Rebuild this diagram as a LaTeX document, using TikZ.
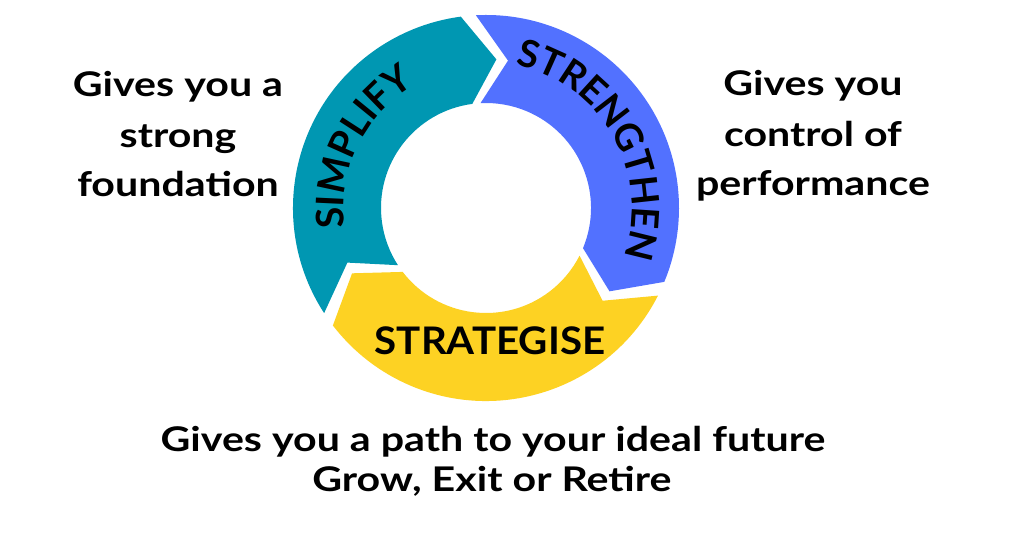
\documentclass[tikz,border=0pt]{standalone}
\usepackage{fontspec}
\newfontfamily\latodesc{Lato}[FakeStretch=1.21]
\newfontfamily\latoring{Lato}[FakeStretch=1.06]
\newfontfamily\latoarc{Lato}
\usetikzlibrary{decorations.text}
\definecolor{tealc}{HTML}{0097B2}
\definecolor{bluec}{HTML}{5271FF}
\definecolor{yellowc}{HTML}{FDD223}
\newcommand\descfont{\latodesc\bfseries\fontsize{34}{34}\selectfont}
\newcommand\ringfont{\latoring\bfseries\fontsize{38}{38}\selectfont}
\newcommand\arcfont{\latoarc\bfseries\fontsize{38}{38}\selectfont}
\begin{document}
\begin{tikzpicture}[x=1pt,y=1pt,
  desc/.style={font=\descfont, anchor=base, inner sep=0pt},
  ringlabel/.style={decorate, decoration={text along path, text align=center, text color=black}}]
\fill[white] (0,0) rectangle (1020,-534);
\useasboundingbox (0,0) rectangle (1020,-534);
\begin{scope}[shift={(486,-208)}]
\fill[tealc] (213:193) arc[start angle=213, end angle=97.5, radius=193] -- (86:149) -- (97.5:105) arc[start angle=97.5, end angle=213, radius=105] -- (201.5:149) -- cycle;
\fill[bluec] (93:193) arc[start angle=93, end angle=-22.5, radius=193] -- (-34:149) -- (-22.5:105) arc[start angle=-22.5, end angle=93, radius=105] -- (81.5:149) -- cycle;
\fill[yellowc] (-27:193) arc[start angle=-27, end angle=-142.5, radius=193] -- (-154:149) -- (-142.5:105) arc[start angle=-142.5, end angle=-27, radius=105] -- (-38.5:149) -- cycle;
\path[ringlabel, decoration={text={|\arcfont|SIMPLIFY}}] (214:142) arc[start angle=214, end angle=94, radius=142];
\path[ringlabel, decoration={text={|\arcfont|STRENGTHEN}}] (90:146) arc[start angle=90, end angle=-31, radius=146];
\end{scope}
\node[font=\ringfont, anchor=base, inner sep=0pt] (strat) at (490,-355) {STRATEGISE};
\node[desc] (l1) at (178,-97) {Gives you a};
\node[desc] (l2) at (178,-148) {strong};
\node[desc] (l3) at (178,-197) {foundation};
\node[desc] (r1) at (813,-96) {Gives you};
\node[desc] (r2) at (813,-147) {control of};
\node[desc] (r3) at (813,-196) {performance};
\node[desc] (b1) at (493,-451) {Gives you a path to your ideal future};
\node[desc] (b2) at (492,-491) {Grow, Exit or Retire};
\end{tikzpicture}
\end{document}
